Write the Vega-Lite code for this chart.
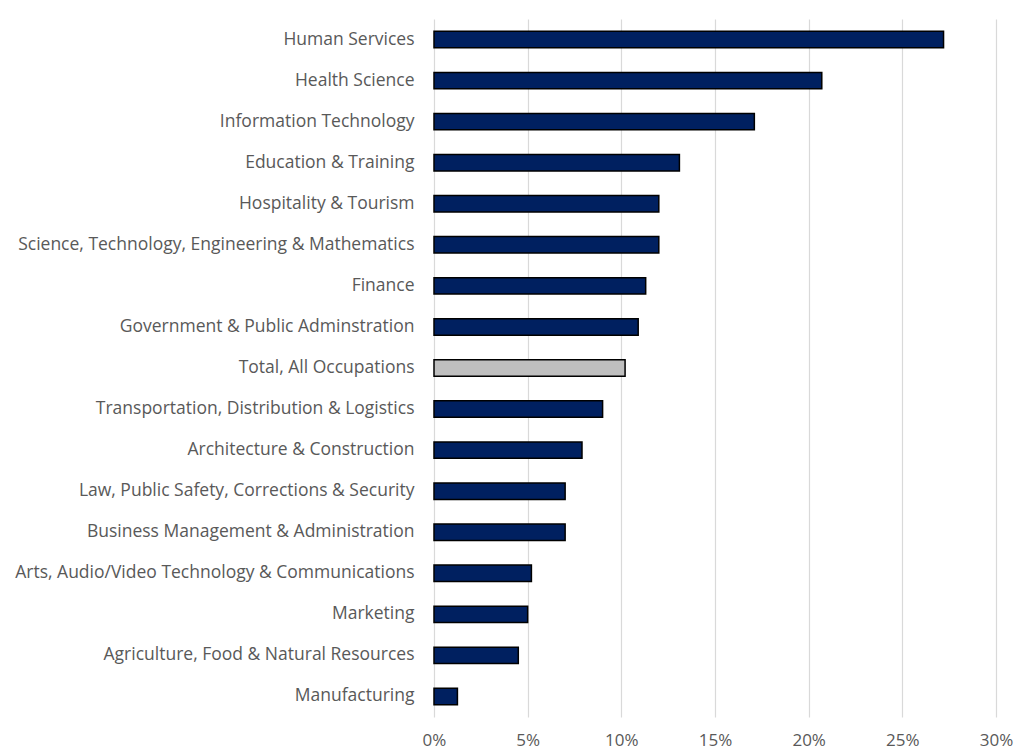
{
  "$schema": "https://vega.github.io/schema/vega-lite/v6.json",
  "width": 562,
  "height": 698,
  "autosize": {"type": "none"},
  "padding": {"left": 434, "top": 19, "right": 28, "bottom": 38},
  "background": "white",
  "config": {"view": {"stroke": null}, "font": "Open Sans"},
  "data": {"values": [
    {"cluster": "Human Services", "share": 0.272, "type": "cluster"},
    {"cluster": "Health Science", "share": 0.207, "type": "cluster"},
    {"cluster": "Information Technology", "share": 0.171, "type": "cluster"},
    {"cluster": "Education & Training", "share": 0.131, "type": "cluster"},
    {"cluster": "Hospitality & Tourism", "share": 0.120, "type": "cluster"},
    {"cluster": "Science, Technology, Engineering & Mathematics", "share": 0.120, "type": "cluster"},
    {"cluster": "Finance", "share": 0.113, "type": "cluster"},
    {"cluster": "Government & Public Adminstration", "share": 0.109, "type": "cluster"},
    {"cluster": "Total, All Occupations", "share": 0.102, "type": "total"},
    {"cluster": "Transportation, Distribution & Logistics", "share": 0.090, "type": "cluster"},
    {"cluster": "Architecture & Construction", "share": 0.079, "type": "cluster"},
    {"cluster": "Law, Public Safety, Corrections & Security", "share": 0.070, "type": "cluster"},
    {"cluster": "Business Management & Administration", "share": 0.070, "type": "cluster"},
    {"cluster": "Arts, Audio/Video Technology & Communications", "share": 0.052, "type": "cluster"},
    {"cluster": "Marketing", "share": 0.050, "type": "cluster"},
    {"cluster": "Agriculture, Food & Natural Resources", "share": 0.045, "type": "cluster"},
    {"cluster": "Manufacturing", "share": 0.0125, "type": "cluster"}
  ]},
  "mark": {"type": "bar", "stroke": "#000000", "strokeWidth": 1.5},
  "encoding": {
    "y": {
      "field": "cluster", "type": "nominal", "sort": null,
      "scale": {"paddingInner": 0.6, "paddingOuter": 0.3},
      "axis": {"title": null, "ticks": false, "domain": false, "grid": false,
               "labelFontSize": 17.5, "labelColor": "#595959", "labelPadding": 20, "labelLimit": 450}
    },
    "x": {
      "field": "share", "type": "quantitative",
      "scale": {"domain": [0, 0.3], "nice": false},
      "axis": {"title": null, "format": ".0%", "values": [0, 0.05, 0.1, 0.15, 0.2, 0.25, 0.3],
               "ticks": false, "domain": false, "grid": true, "gridColor": "#D9D9D9", "gridWidth": 1.2,
               "labelFlush": false,
               "labelFontSize": 17, "labelColor": "#595959", "labelPadding": 15}
    },
    "color": {
      "field": "type", "type": "nominal",
      "scale": {"domain": ["cluster", "total"], "range": ["#002060", "#BFBFBF"]},
      "legend": null
    }
  }
}
